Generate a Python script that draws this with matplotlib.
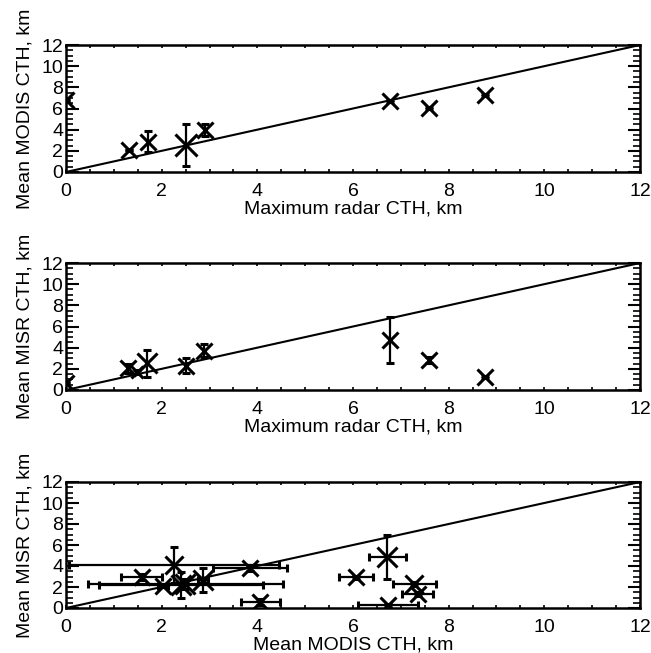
import matplotlib as mpl
mpl.use('Agg')
import matplotlib.pyplot as plt
from matplotlib.ticker import MultipleLocator
import numpy as np

plt.rcParams['font.family'] = ['Liberation Sans', 'DejaVu Sans']

# panel 1: MODIS vs radar
radar1 = [1.32, 1.72, 2.51, 2.91, 0.0, 6.77, 7.58, 8.76]
modis1 = [2.08, 2.87, 2.55, 3.97, 6.8, 6.72, 6.02, 7.28]
modis1_err = [0.0, 1.0, 2.0, 0.6, 0.0, 0.1, 0.1, 0.1]

# panel 2: MISR vs radar
radar2 = [1.30, 1.48, 1.69, 2.50, 2.89, 0.0, 6.77, 7.59, 8.77]
misr2 = [2.05, 1.73, 2.52, 2.30, 3.71, 0.7, 4.73, 2.84, 1.26]
misr2_err = [0.4, 0.2, 1.25, 0.7, 0.6, 0.0, 2.2, 0.3, 0.1]

# panel 3: MISR vs MODIS
modis3 = [1.58, 2.03, 2.26, 2.40, 2.49, 2.86, 3.85, 4.06, 6.06, 6.72, 7.28, 7.35, 6.73]
modis3_err = [0.42, 0.1, 2.2, 1.72, 2.04, 0.1, 0.78, 0.41, 0.35, 0.38, 0.45, 0.32, 0.63]
misr3 = [2.98, 2.10, 4.1, 2.2, 2.3, 2.65, 3.8, 0.6, 2.91, 4.87, 2.28, 1.33, 0.3]
misr3_err = [0.3, 0.1, 1.75, 1.2, 0.5, 1.15, 0.3, 0.3, 0.15, 2.1, 0.2, 0.2, 0.1]

# marker sizes (pt)
ms1 = [11.5, 11.5, 16, 11.5, 11.5, 11.5, 11.5, 11.5]
ms2 = [11.5, 9, 14, 11.5, 11.5, 11.5, 11.5, 11.5, 11.5]
ms3 = [12, 12, 13, 14, 14, 15, 12, 11.5, 12, 15, 13, 12, 11.5]

fig = plt.figure(figsize=(6.51, 6.53), dpi=100)
H = 653.
W = 651.
boxes = [(66, 172, 127), (66, 390, 127), (66, 608, 126)]


def setup(ax, xlabel, ylabel):
    ax.set_xlim(0, 12)
    ax.set_ylim(0, 12)
    for s in ax.spines.values():
        s.set_linewidth(1.8)
    ax.xaxis.set_major_locator(MultipleLocator(2))
    ax.xaxis.set_minor_locator(MultipleLocator(0.5))
    ax.yaxis.set_major_locator(MultipleLocator(2))
    ax.yaxis.set_minor_locator(MultipleLocator(0.5))
    ax.tick_params(axis='x', which='both', direction='in', top=True, bottom=True,
                   length=2.5, width=1.2, labelsize=14, pad=8)
    ax.tick_params(axis='y', which='major', direction='in', left=True, right=True,
                   length=9, width=1.5, labelsize=14, pad=2)
    ax.tick_params(axis='y', which='minor', direction='in', left=True, right=True,
                   length=5, width=1.2)
    ax.set_xlabel(xlabel, fontsize=14, labelpad=0)
    ax.set_ylabel(ylabel, fontsize=14, labelpad=6)
    ax.plot([0, 12], [0, 12], 'k-', lw=1.5)


def draw(ax, x, y, xerr, yerr, ms):
    for i in range(len(x)):
        ax.errorbar(x[i], y[i],
                    xerr=None if xerr is None else xerr[i],
                    yerr=yerr[i], fmt='x', color='k', ms=ms[i], mew=2.2,
                    elinewidth=1.6, capsize=3, capthick=1.6)


axes = []
for (l, b, h) in boxes:
    axes.append(fig.add_axes([l / W, 1 - b / H, 574 / W, h / H]))

setup(axes[0], 'Maximum radar CTH, km', 'Mean MODIS CTH, km')
draw(axes[0], radar1, modis1, None, modis1_err, ms1)
setup(axes[1], 'Maximum radar CTH, km', 'Mean MISR CTH, km')
draw(axes[1], radar2, misr2, None, misr2_err, ms2)
setup(axes[2], 'Mean MODIS CTH, km', 'Mean MISR CTH, km')
draw(axes[2], modis3, misr3, modis3_err, misr3_err, ms3)

fig.savefig('out.png', dpi=100)
